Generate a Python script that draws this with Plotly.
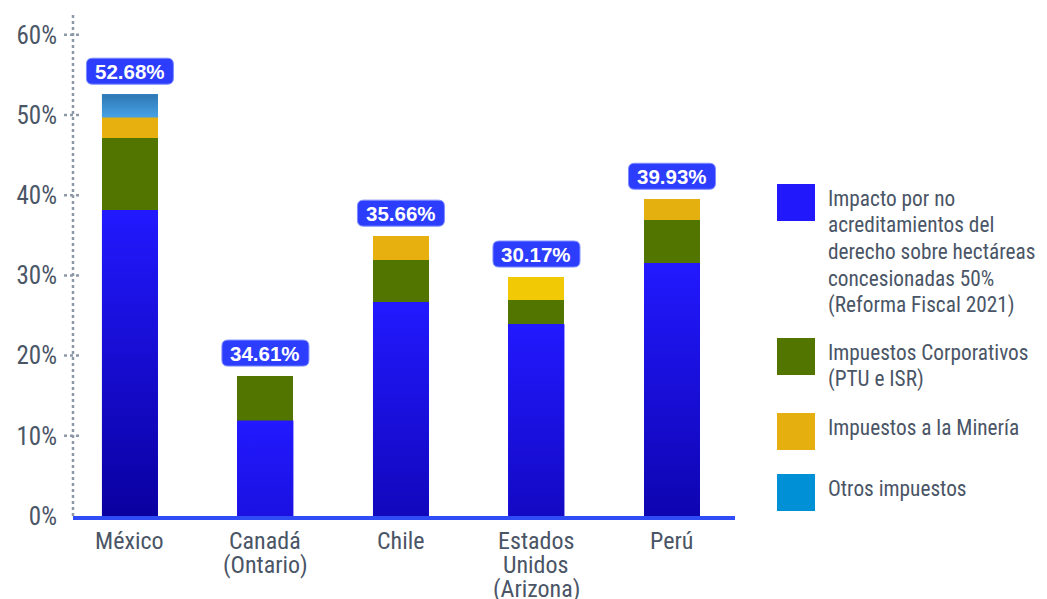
import plotly.graph_objects as go

# ---------------- data ----------------
categories = ["México", "Canadá<br>(Ontario)", "Chile", "Estados<br>Unidos<br>(Arizona)", "Perú"]
impacto = [38.1, 11.9, 26.7, 23.9, 31.5]          # Impacto por no acreditamientos ...
corporativos = [9.0, 5.55, 5.2, 3.0, 5.4]         # Impuestos Corporativos (PTU e ISR)
mineria = [2.6, 0.0, 3.0, 2.9, 2.6]               # Impuestos a la Minería
otros = [2.9, 0.0, 0.0, 0.0, 0.0]                 # Otros impuestos
total_labels = ["52.68%", "34.61%", "35.66%", "30.17%", "39.93%"]
y_ticks = [0, 10, 20, 30, 40, 50, 60]
y_tick_labels = ["0%", "10%", "20%", "30%", "40%", "50%", "60%"]

series_names = [
    "Impacto por no<br>acreditamientos del<br>derecho sobre hectáreas<br>concesionadas 50%<br>(Reforma Fiscal 2021)",
    "Impuestos Corporativos<br>(PTU e ISR)",
    "Impuestos a la Minería",
    "Otros impuestos",
]

# ---------------- style ----------------
OFF = 8                      # page body margin
W, H = 1047 - OFF, 599 - OFF
PLOT_L, PLOT_R, PLOT_T, PLOT_B = 73 - OFF, 735 - OFF, 12 - OFF, 516 - OFF
ML, MR, MT, MB = PLOT_L, W - PLOT_R, PLOT_T, H - PLOT_B
BAR_W = 0.413
BLUE_TOP, BLUE_BOT = "#2219ff", "#0a00a0"
GREEN = "#527500"
YELLOWS = ["#e7b00f", "#e7b00f", "#e7b00f", "#f2c905", "#e4b010"]
OTROS_TOP, OTROS_BOT = "#2e76b4", "#46a2e4"
LEGEND_COLORS = ["#2119fc", "#527500", "#e5af10", "#0090d6"]
TEXT_COLOR = "#4a5566"
AXIS_FONT = "Roboto Condensed, Liberation Sans, sans-serif"
BADGE_FONT = "Liberation Sans, Arial, sans-serif"

x = list(range(len(categories)))
fig = go.Figure()

# stacked bars
fig.add_bar(x=x, y=impacto, width=BAR_W, marker=dict(color=BLUE_TOP, line_width=0),
            name="impacto", showlegend=False, hoverinfo="skip")
fig.add_bar(x=x, y=corporativos, width=BAR_W, marker=dict(color=GREEN, line_width=0),
            name="corporativos", showlegend=False, hoverinfo="skip")
fig.add_bar(x=x, y=mineria, width=BAR_W, marker=dict(color=YELLOWS, line_width=0),
            name="mineria", showlegend=False, hoverinfo="skip")
fig.add_bar(x=x, y=otros, width=BAR_W, marker=dict(color=OTROS_BOT, line_width=0),
            name="otros", showlegend=False, hoverinfo="skip")

# gradient overlays (same geometry as the bars, drawn through the axes)
DEPTH = 38.1
for i, v in enumerate(impacto):
    fig.add_scatter(
        x=[i - BAR_W / 2, i + BAR_W / 2, i + BAR_W / 2, i - BAR_W / 2, i - BAR_W / 2],
        y=[0, 0, v, v, 0], mode="lines", line=dict(width=0), fill="toself",
        fillgradient=dict(type="vertical", start=v - DEPTH, stop=v,
                          colorscale=[[0, BLUE_BOT], [1, BLUE_TOP]]),
        showlegend=False, hoverinfo="skip")
for i, v in enumerate(otros):
    if v <= 0:
        continue
    base = impacto[i] + corporativos[i] + mineria[i]
    fig.add_scatter(
        x=[i - BAR_W / 2, i + BAR_W / 2, i + BAR_W / 2, i - BAR_W / 2, i - BAR_W / 2],
        y=[base, base, base + v, base + v, base], mode="lines", line=dict(width=0),
        fill="toself",
        fillgradient=dict(type="vertical", colorscale=[[0, OTROS_BOT], [1, OTROS_TOP]]),
        showlegend=False, hoverinfo="skip")

shapes = []
annotations = []

# dotted y axis and tick crosses
shapes.append(dict(type="line", xref="paper", yref="paper", x0=0, x1=0, y0=0, y1=1,
                   line=dict(color="#8e99a8", width=2.5, dash="dot"), layer="below"))
for t in y_ticks[1:]:
    shapes.append(dict(type="line", xref="paper", xsizemode="pixel", xanchor=0, x0=-9, x1=9,
                       yref="y", y0=t, y1=t,
                       line=dict(color="#8e99a8", width=2.5, dash="dot"), layer="below"))

# total badges
bw, r = 43.5, 6
badge_path = (f"M {-bw + r},10 L {bw - r},10 Q {bw},10 {bw},{10 + r} L {bw},{36 - r} "
              f"Q {bw},36 {bw - r},36 L {-bw + r},36 Q {-bw},36 {-bw},{36 - r} "
              f"L {-bw},{10 + r} Q {-bw},10 {-bw + r},10 Z")
for i in x:
    top = impacto[i] + corporativos[i] + mineria[i] + otros[i]
    shapes.append(dict(type="path", xref="x", yref="y", xsizemode="pixel", ysizemode="pixel",
                       xanchor=i, yanchor=top, path=badge_path,
                       fillcolor="#2c3dfd", line=dict(color="#7d8cff", width=1)))
    annotations.append(dict(x=i, y=top, xref="x", yref="y", yshift=23, showarrow=False,
                            text=f"<b>{total_labels[i]}</b>", xanchor="center", yanchor="middle",
                            font=dict(family=BADGE_FONT, size=20.5, color="white")))

# category labels (one annotation per line for tight line spacing)
for i, cat in enumerate(categories):
    for k, line in enumerate(cat.split("<br>")):
        annotations.append(dict(x=i, xref="x", y=0, yref="paper", yshift=-(25 + 24 * k),
                                showarrow=False, text=line, xanchor="center", yanchor="middle",
                                font=dict(family=AXIS_FONT, size=24, color=TEXT_COLOR)))

# custom legend (reference pixel positions, shifted by the page offset)
sq_tops = [184, 338, 413, 474]
for name, col, top in zip(series_names, LEGEND_COLORS, sq_tops):
    top -= OFF
    shapes.append(dict(type="rect", xref="paper", yref="paper", xsizemode="pixel",
                       ysizemode="pixel", xanchor=1, yanchor=0,
                       x0=(777 - OFF) - PLOT_R, x1=(815 - OFF) - PLOT_R,
                       y0=PLOT_B - (top + 37), y1=PLOT_B - top,
                       fillcolor=col, line=dict(width=0)))
    for k, line in enumerate(name.split("<br>")):
        cy = top + 14 + 26.7 * k
        annotations.append(dict(x=1, xref="paper", xshift=(828 - OFF) - PLOT_R - 2, y=0,
                                yref="paper", yshift=PLOT_B - cy, showarrow=False, text=line,
                                xanchor="left", yanchor="middle",
                                font=dict(family=AXIS_FONT, size=21.3, color=TEXT_COLOR)))

fig.update_layout(
    width=W, height=H, barmode="stack", bargap=0,
    margin=dict(l=ML, r=MR, t=MT, b=MB),
    paper_bgcolor="white", plot_bgcolor="white",
    showlegend=False,
    shapes=shapes, annotations=annotations,
    xaxis=dict(range=[-0.42, 4.465], tickvals=x, ticktext=[""] * len(x), showgrid=False,
               zeroline=False, showline=True, linecolor="#2f4cf7", linewidth=4, ticks="",
               fixedrange=True),
    yaxis=dict(range=[0, 62.85], tickvals=y_ticks, ticktext=y_tick_labels, showgrid=False,
               zeroline=False, showline=False, ticks="outside", ticklen=10,
               tickcolor="rgba(0,0,0,0)",
               tickfont=dict(family=AXIS_FONT, size=25, color=TEXT_COLOR), fixedrange=True),
)

fig.write_html("out.html")
